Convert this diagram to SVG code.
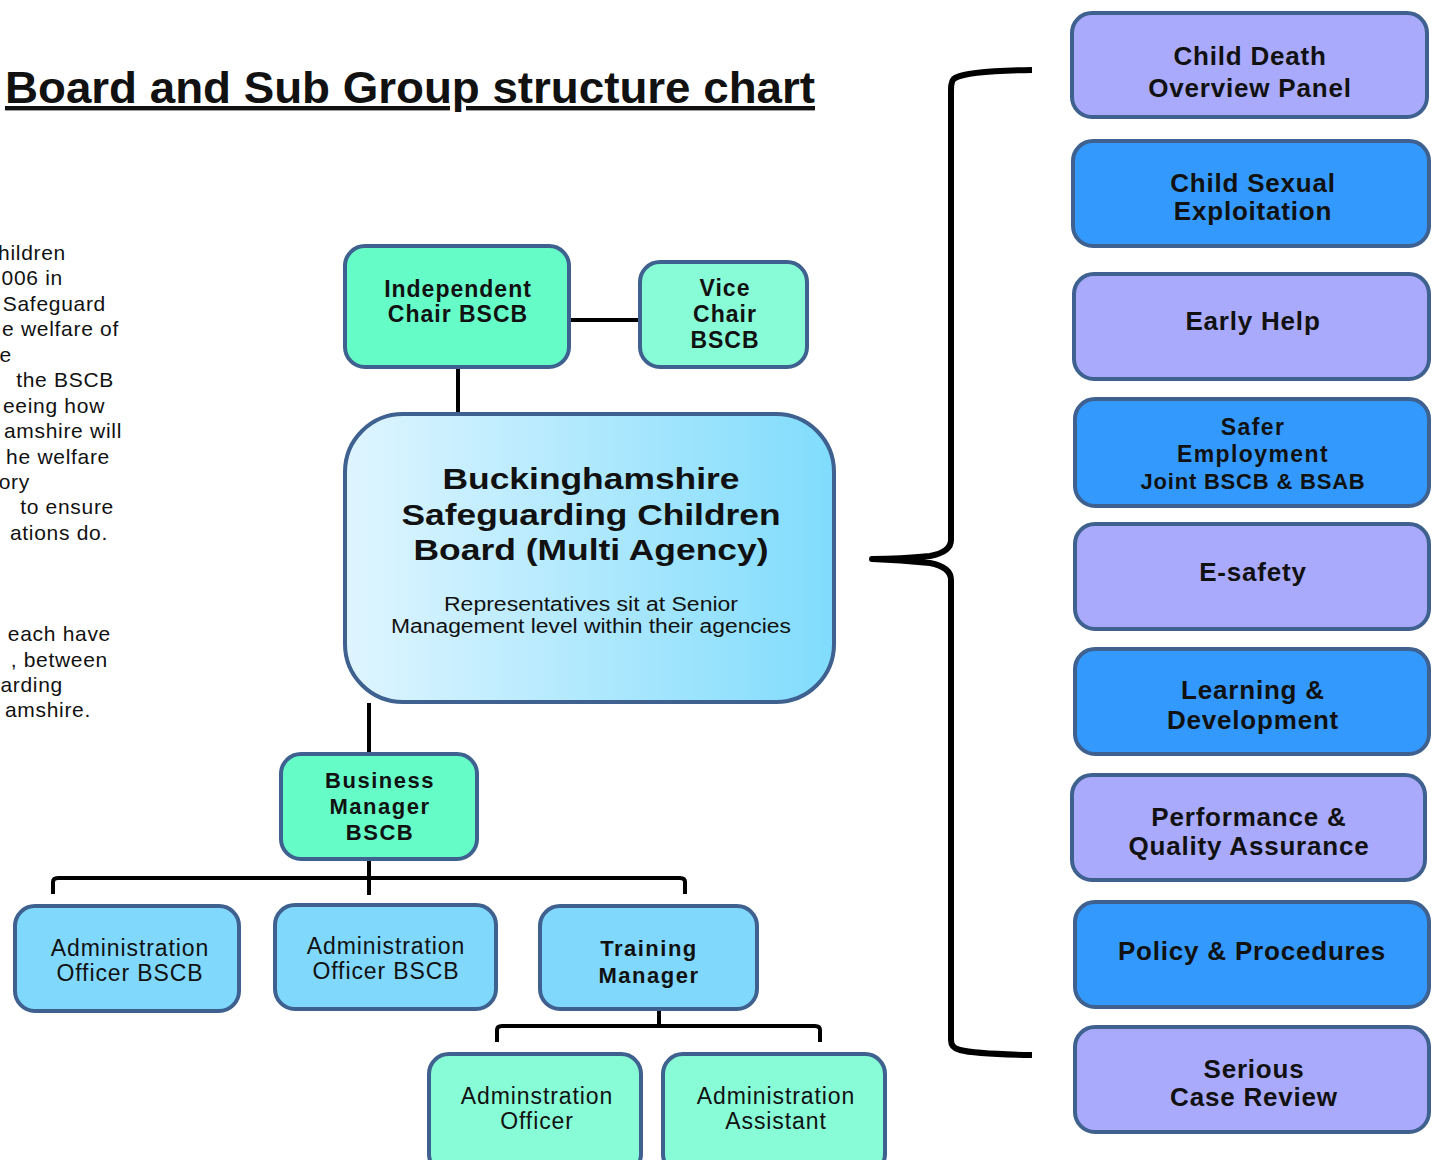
<svg xmlns="http://www.w3.org/2000/svg" width="1432" height="1160" viewBox="0 0 1432 1160">
<defs>
<linearGradient id="mainGrad" x1="0" y1="0" x2="1" y2="0">
<stop offset="0" stop-color="#dff5ff"/>
<stop offset="1" stop-color="#80dcfc"/>
</linearGradient>
<style>
.box{stroke:#3f6190;stroke-width:4;}
.lav{fill:#aaaafc;}
.blu{fill:#3399fc;}
.mint{fill:#66fcc8;}
.mint2{fill:#88fcd6;}
.sky{fill:#80d8fc;}
.b{font-family:"Liberation Sans",Arial,sans-serif;font-weight:bold;fill:#111;text-anchor:middle;}
.r{font-family:"Liberation Sans",Arial,sans-serif;fill:#111;text-anchor:middle;}
.rb{font-size:26px;letter-spacing:0.8px;}
.se{font-size:23px;letter-spacing:1.4px;}
.nb{font-size:23px;letter-spacing:1px;}
.nb2{font-size:22px;letter-spacing:1.5px;}
.nr{font-size:23px;letter-spacing:0.9px;}
.side{font-family:"Liberation Sans",Arial,sans-serif;font-size:21px;letter-spacing:0.7px;fill:#111;text-anchor:end;}
.conn{stroke:#000;stroke-width:4;fill:none;}
</style>
</defs>
<rect width="1432" height="1160" fill="#ffffff"/>

<text x="5" y="103" font-family="Liberation Sans, Arial, sans-serif" font-weight="bold" font-size="44" textLength="810" lengthAdjust="spacingAndGlyphs" text-decoration="underline" fill="#111">Board and Sub Group structure chart</text>

<g id="side-text">
<text class="side" x="66" y="260">hildren</text>
<text class="side" x="63" y="285">006 in</text>
<text class="side" x="106" y="311">Safeguard</text>
<text class="side" x="119" y="336">e welfare of</text>
<text class="side" x="12" y="362">e</text>
<text class="side" x="114" y="387">the BSCB</text>
<text class="side" x="105" y="413">eeing how</text>
<text class="side" x="122" y="438">amshire will</text>
<text class="side" x="110" y="464">he welfare</text>
<text class="side" x="30" y="489">ory</text>
<text class="side" x="114" y="514">to ensure</text>
<text class="side" x="108" y="540">ations do.</text>
<text class="side" x="111" y="641">each have</text>
<text class="side" x="108" y="667">, between</text>
<text class="side" x="63" y="692">arding</text>
<text class="side" x="91" y="717">amshire.</text>
</g>

<g id="connectors">
<line class="conn" x1="570" y1="320" x2="640" y2="320"/>
<line class="conn" x1="458" y1="368" x2="458" y2="413"/>
<line class="conn" x1="369" y1="703" x2="369" y2="753"/>
<line class="conn" x1="369" y1="860" x2="369" y2="895"/>
<path class="conn" d="M53,894 V882 Q53,878 58,878 H680 Q685,878 685,882 V894"/>
<line class="conn" x1="659" y1="1010" x2="659" y2="1026"/>
<path class="conn" d="M497,1042 V1030 Q497,1026 502,1026 H815 Q820,1026 820,1030 V1042"/>
<path d="M1032,70 Q968,71 955,78 Q951,80 951,90 V540 Q951,552 930,556 Q900,559 872,559 Q900,560 930,563 Q951,567 951,580 V1040 Q951,1048 960,1050 Q975,1054 1032,1055" fill="none" stroke="#000" stroke-width="6" stroke-linejoin="round"/>
</g>

<g id="independent-chair">
<rect class="box mint" x="345" y="246" width="224" height="121" rx="20"/>
<text class="b nb" x="458" y="297">Independent</text>
<text class="b nb" x="458" y="322">Chair BSCB</text>
</g>
<g id="vice-chair">
<rect class="box mint2" x="640" y="262" width="167" height="105" rx="20"/>
<text class="b nb" x="725" y="296">Vice</text>
<text class="b nb" x="725" y="322">Chair</text>
<text class="b nb" x="725" y="348">BSCB</text>
</g>
<g id="bscb-main">
<rect class="box" fill="url(#mainGrad)" x="345" y="414" width="489" height="288" rx="58"/>
<text class="b" x="591" y="489" font-size="30" textLength="297" lengthAdjust="spacingAndGlyphs">Buckinghamshire</text>
<text class="b" x="591" y="525" font-size="30" textLength="379" lengthAdjust="spacingAndGlyphs">Safeguarding Children</text>
<text class="b" x="591" y="560" font-size="30" textLength="355" lengthAdjust="spacingAndGlyphs">Board (Multi Agency)</text>
<text class="r" x="591" y="611" font-size="20" textLength="294" lengthAdjust="spacingAndGlyphs">Representatives sit at Senior</text>
<text class="r" x="591" y="633" font-size="20" textLength="400" lengthAdjust="spacingAndGlyphs">Management level within their agencies</text>
</g>
<g id="business-manager">
<rect class="box mint" x="281" y="754" width="196" height="105" rx="20"/>
<text class="b nb2" x="380" y="788">Business</text>
<text class="b nb2" x="380" y="814">Manager</text>
<text class="b nb2" x="380" y="840">BSCB</text>
</g>
<g id="admin-officer-1">
<rect class="box sky" x="15" y="906" width="224" height="105" rx="20"/>
<text class="r nr" x="130" y="956">Administration</text>
<text class="r nr" x="130" y="981">Officer BSCB</text>
</g>
<g id="admin-officer-2">
<rect class="box sky" x="275" y="905" width="221" height="104" rx="20"/>
<text class="r nr" x="386" y="954">Administration</text>
<text class="r nr" x="386" y="979">Officer BSCB</text>
</g>
<g id="training-manager">
<rect class="box sky" x="540" y="906" width="217" height="103" rx="20"/>
<text class="b nb2" x="649" y="956">Training</text>
<text class="b nb2" x="649" y="983">Manager</text>
</g>
<g id="adminstration-officer">
<rect class="box mint2" x="429" y="1054" width="212" height="120" rx="20"/>
<text class="r nr" x="537" y="1104">Adminstration</text>
<text class="r nr" x="537" y="1129">Officer</text>
</g>
<g id="administration-assistant">
<rect class="box mint2" x="663" y="1054" width="222" height="120" rx="20"/>
<text class="r nr" x="776" y="1104">Administration</text>
<text class="r nr" x="776" y="1129">Assistant</text>
</g>

<g id="child-death">
<rect class="box lav" x="1072" y="13" width="355" height="104" rx="20"/>
<text class="b rb" x="1250" y="65">Child Death</text>
<text class="b rb" x="1250" y="97">Overview Panel</text>
</g>
<g id="cse">
<rect class="box blu" x="1073" y="141" width="356" height="105" rx="20"/>
<text class="b rb" x="1253" y="192">Child Sexual</text>
<text class="b rb" x="1253" y="220">Exploitation</text>
</g>
<g id="early-help">
<rect class="box lav" x="1074" y="274" width="355" height="105" rx="20"/>
<text class="b rb" x="1253" y="330">Early Help</text>
</g>
<g id="safer-employment">
<rect class="box blu" x="1075" y="399" width="354" height="107" rx="20"/>
<text class="b se" x="1253" y="435">Safer</text>
<text class="b se" x="1253" y="462">Employment</text>
<text class="b" x="1253" y="489" font-size="22" letter-spacing="0.8">Joint BSCB &amp; BSAB</text>
</g>
<g id="e-safety">
<rect class="box lav" x="1075" y="524" width="354" height="105" rx="20"/>
<text class="b rb" x="1253" y="581">E-safety</text>
</g>
<g id="learning-development">
<rect class="box blu" x="1075" y="649" width="354" height="105" rx="20"/>
<text class="b rb" x="1253" y="699">Learning &amp;</text>
<text class="b rb" x="1253" y="729">Development</text>
</g>
<g id="performance-qa">
<rect class="box lav" x="1072" y="775" width="353" height="105" rx="20"/>
<text class="b rb" x="1249" y="826">Performance &amp;</text>
<text class="b rb" x="1249" y="855">Quality Assurance</text>
</g>
<g id="policy-procedures">
<rect class="box blu" x="1075" y="902" width="354" height="105" rx="20"/>
<text class="b rb" x="1252" y="960">Policy &amp; Procedures</text>
</g>
<g id="serious-case-review">
<rect class="box lav" x="1075" y="1027" width="354" height="105" rx="20"/>
<text class="b rb" x="1254" y="1078">Serious</text>
<text class="b rb" x="1254" y="1106">Case Review</text>
</g>
</svg>
